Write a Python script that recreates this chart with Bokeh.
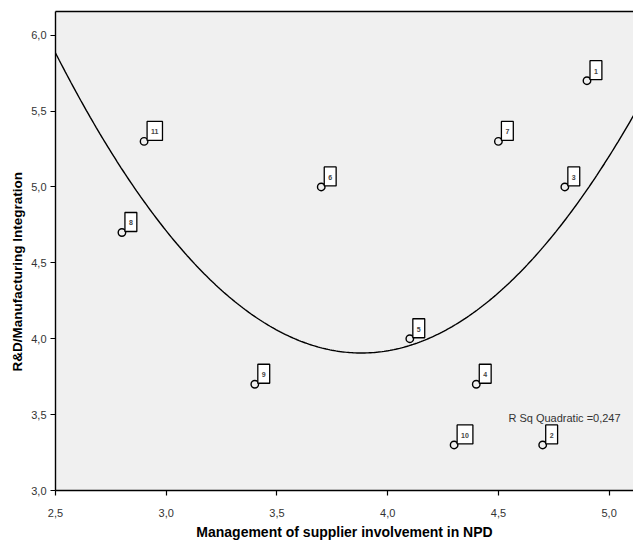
import numpy as np
from bokeh.plotting import figure
from bokeh.models import ColumnDataSource, Label, FixedTicker, LinearAxis, Range1d, Title
from bokeh.embed import file_html
from bokeh.resources import INLINE

# ---- data ----
case_ids = ["1", "2", "3", "4", "5", "6", "7", "8", "9", "10", "11"]
supplier_mgmt = [4.9, 4.7, 4.8, 4.4, 4.1, 3.7, 4.5, 2.8, 3.4, 4.3, 2.9]
rd_mfg = [5.7, 3.3, 5.0, 3.7, 4.0, 5.0, 5.3, 4.7, 3.7, 3.3, 5.3]
x_ticks = [2.5, 3.0, 3.5, 4.0, 4.5, 5.0]
x_tick_labels = ["2,5", "3,0", "3,5", "4,0", "4,5", "5,0"]
y_ticks = [3.0, 3.5, 4.0, 4.5, 5.0, 5.5, 6.0]
y_tick_labels = ["3,0", "3,5", "4,0", "4,5", "5,0", "5,5", "6,0"]
x_title = "Management of supplier involvement in NPD"
y_title = "R&D/Manufacturing Integration"
r_sq_text = "R Sq Quadratic =0,247"

X_START, X_END = 2.5, 5.11
Y_START, Y_END = 3.0, 6.156

# quadratic least-squares fit of the data
coef = np.polyfit(supplier_mgmt, rd_mfg, 2)
fit_x = np.linspace(X_START, X_END, 300)
fit_y = np.polyval(coef, fit_x)

FONT = "Liberation Sans"
BG = "#f0f0f0"

p = figure(width=633, height=542, output_backend="svg", toolbar_location=None,
           x_range=Range1d(X_START, X_END), y_range=Range1d(Y_START, Y_END),
           min_border_left=55, min_border_right=0, min_border_top=11, min_border_bottom=50)
p.background_fill_color = BG
p.border_fill_color = "white"
p.outline_line_color = None
p.grid.visible = False

for ax in (p.xaxis[0], p.yaxis[0]):
    ax.axis_line_color = "black"
    ax.axis_line_width = 1.4
    ax.major_tick_line_color = "black"
    ax.major_tick_line_width = 1.2
    ax.major_tick_out = 5
    ax.major_tick_in = 0
    ax.minor_tick_line_color = None
    ax.major_label_text_font = FONT
    ax.major_label_text_font_size = "11px"
    ax.major_label_text_color = "#333333"
    ax.axis_label_text_font = FONT
    ax.axis_label_text_font_style = "bold"
    ax.axis_label_text_color = "black"

p.xaxis.ticker = FixedTicker(ticks=x_ticks)
p.xaxis.major_label_overrides = dict(zip(x_ticks, x_tick_labels))
p.yaxis.ticker = FixedTicker(ticks=y_ticks)
p.yaxis.major_label_overrides = dict(zip(y_ticks, y_tick_labels))
p.xaxis.axis_label = x_title
p.xaxis.axis_label_text_font_size = "14px"
p.xaxis.major_label_standoff = 13
p.xaxis.axis_label_standoff = 4
p.yaxis.major_label_standoff = 4

# y title on the left, placed a little below the frame centre like the original
p.add_layout(Title(text=y_title, align="left", offset=119, standoff=7,
                   text_font=FONT, text_font_size="13.5px", text_font_style="bold",
                   text_color="black"), "left")

# top border
top_axis = LinearAxis(ticker=FixedTicker(ticks=[]), major_label_text_font_size="0px",
                      major_tick_out=0, major_tick_in=0, minor_tick_out=0,
                      axis_line_color="black", axis_line_width=1.4)
p.add_layout(top_axis, "above")

# fit line
p.line(fit_x, fit_y, line_color="black", line_width=1.4)

# points
src = ColumnDataSource(dict(x=supplier_mgmt, y=rd_mfg, id=case_ids))
p.scatter("x", "y", source=src, size=7.5, marker="circle",
          fill_color=BG, line_color="black", line_width=1.4)

# case labels
for cx, cy, cid in zip(supplier_mgmt, rd_mfg, case_ids):
    p.add_layout(Label(x=cx, y=cy, text=cid, x_offset=3, y_offset=1,
                       text_font=FONT, text_font_size="7px", text_font_style="bold",
                       text_color="#444444", text_align="left", text_baseline="bottom",
                       background_fill_color="white", border_line_color="black",
                       border_line_width=1.3,
                       padding=dict(left=4, right=4, top=8, bottom=6)))

p.add_layout(Label(x=4.545, y=3.44, text=r_sq_text, text_font=FONT,
                   text_font_size="11px", text_color="#333333",
                   text_align="left", text_baseline="bottom"))

open("out.html", "w").write(file_html(p, INLINE))
